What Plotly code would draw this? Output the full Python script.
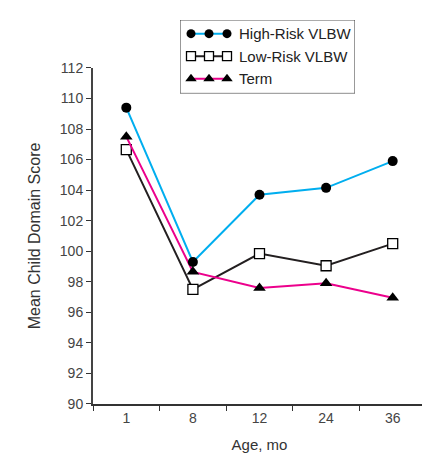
import plotly.graph_objects as go

ages = ["1", "8", "12", "24", "36"]
high_risk = [109.4, 99.3, 103.7, 104.15, 105.9]
low_risk = [106.65, 97.5, 99.85, 99.05, 100.5]
term = [107.5, 98.65, 97.6, 97.9, 96.95]

series_names = ["High-Risk VLBW", "Low-Risk VLBW", "Term"]
line_colors = ["#00AEEF", "#231F20", "#EC008C"]
symbols = ["circle", "square", "triangle-up"]
marker_fill = ["#000000", "#FFFFFF", "#000000"]
marker_sizes = [10, 10, 11]
values = [high_risk, low_risk, term]

OFF = 8  # page body margin
W, H = 430 - OFF, 456 - OFF
L, R, B = 93 - OFF, 4, 52
plot_top = 61 - OFF
paper_h = H - B  # top margin 0
main_top = (paper_h - plot_top) / paper_h
FONT = "Liberation Sans, Arial, Helvetica, sans-serif"

fig = go.Figure()

# draw order: low risk, term, high risk
for i in [1, 2, 0]:
    fig.add_trace(go.Scatter(
        x=ages, y=values[i], mode="lines+markers", name=series_names[i],
        line=dict(color=line_colors[i], width=2),
        marker=dict(symbol=symbols[i], size=marker_sizes[i], color=marker_fill[i],
                    line=dict(color="#000000", width=1.3 if i == 1 else 0)),
        showlegend=False, xaxis="x", yaxis="y",
    ))

# custom legend (pixel-based overlay axes, page coordinates)
leg_left, leg_right, leg_top, leg_bottom = 180, 355, 12, 87
rows = [26, 49, 72]
glyph_x = [191, 209, 227]
for i in range(3):
    fig.add_trace(go.Scatter(
        x=glyph_x, y=[rows[i]] * 3, mode="lines+markers",
        line=dict(color=line_colors[i], width=2),
        marker=dict(symbol=symbols[i], size=marker_sizes[i] - 1, color=marker_fill[i],
                    line=dict(color="#000000", width=1.3 if i == 1 else 0)),
        showlegend=False, xaxis="x2", yaxis="y2", hoverinfo="skip",
    ))
    fig.add_annotation(x=237, y=rows[i], xref="x2", yref="y2", text=series_names[i],
                       showarrow=False, xanchor="left", yanchor="middle",
                       font=dict(family=FONT, size=15, color="#222"))

fig.add_shape(type="rect", xref="x2", yref="y2", x0=leg_left, x1=leg_right,
              y0=leg_top, y1=leg_bottom, line=dict(color="#333", width=1), layer="below")

pw = W - L - R
fig.update_layout(
    width=W, height=H,
    margin=dict(l=L, r=R, t=0, b=B),
    paper_bgcolor="white", plot_bgcolor="white",
    font=dict(family=FONT, size=14, color="#333"),
    xaxis=dict(type="category", range=[-0.5, 4.5], tickson="boundaries",
               ticks="outside", ticklen=5, tickcolor="#333", tickwidth=1.2,
               showline=True, linecolor="#333", linewidth=1.5, showgrid=False,
               zeroline=False, tickfont=dict(size=14, color="#444"),
               title=dict(text="Age, mo", font=dict(size=15, color="#333"), standoff=15),
               automargin=False, domain=[0, 1]),
    yaxis=dict(range=[90, 112], dtick=2, ticks="outside", ticklen=5, tickcolor="#333",
               tickwidth=1.2, showline=True, linecolor="#444", linewidth=2,
               showgrid=False, zeroline=False, tickfont=dict(size=14, color="#444"),
               title=dict(text="Mean Child Domain Score", font=dict(size=16, color="#333"), standoff=15),
               domain=[0, main_top]),
    xaxis2=dict(domain=[(leg_left - OFF - L) / pw, (leg_right - OFF - L) / pw],
                range=[leg_left, leg_right], visible=False, anchor="y2", fixedrange=True),
    yaxis2=dict(domain=[(paper_h - (leg_bottom - OFF)) / paper_h, (paper_h - (leg_top - OFF)) / paper_h],
                range=[leg_bottom, leg_top], visible=False, anchor="x2", fixedrange=True),
)

fig.write_html("out.html")
